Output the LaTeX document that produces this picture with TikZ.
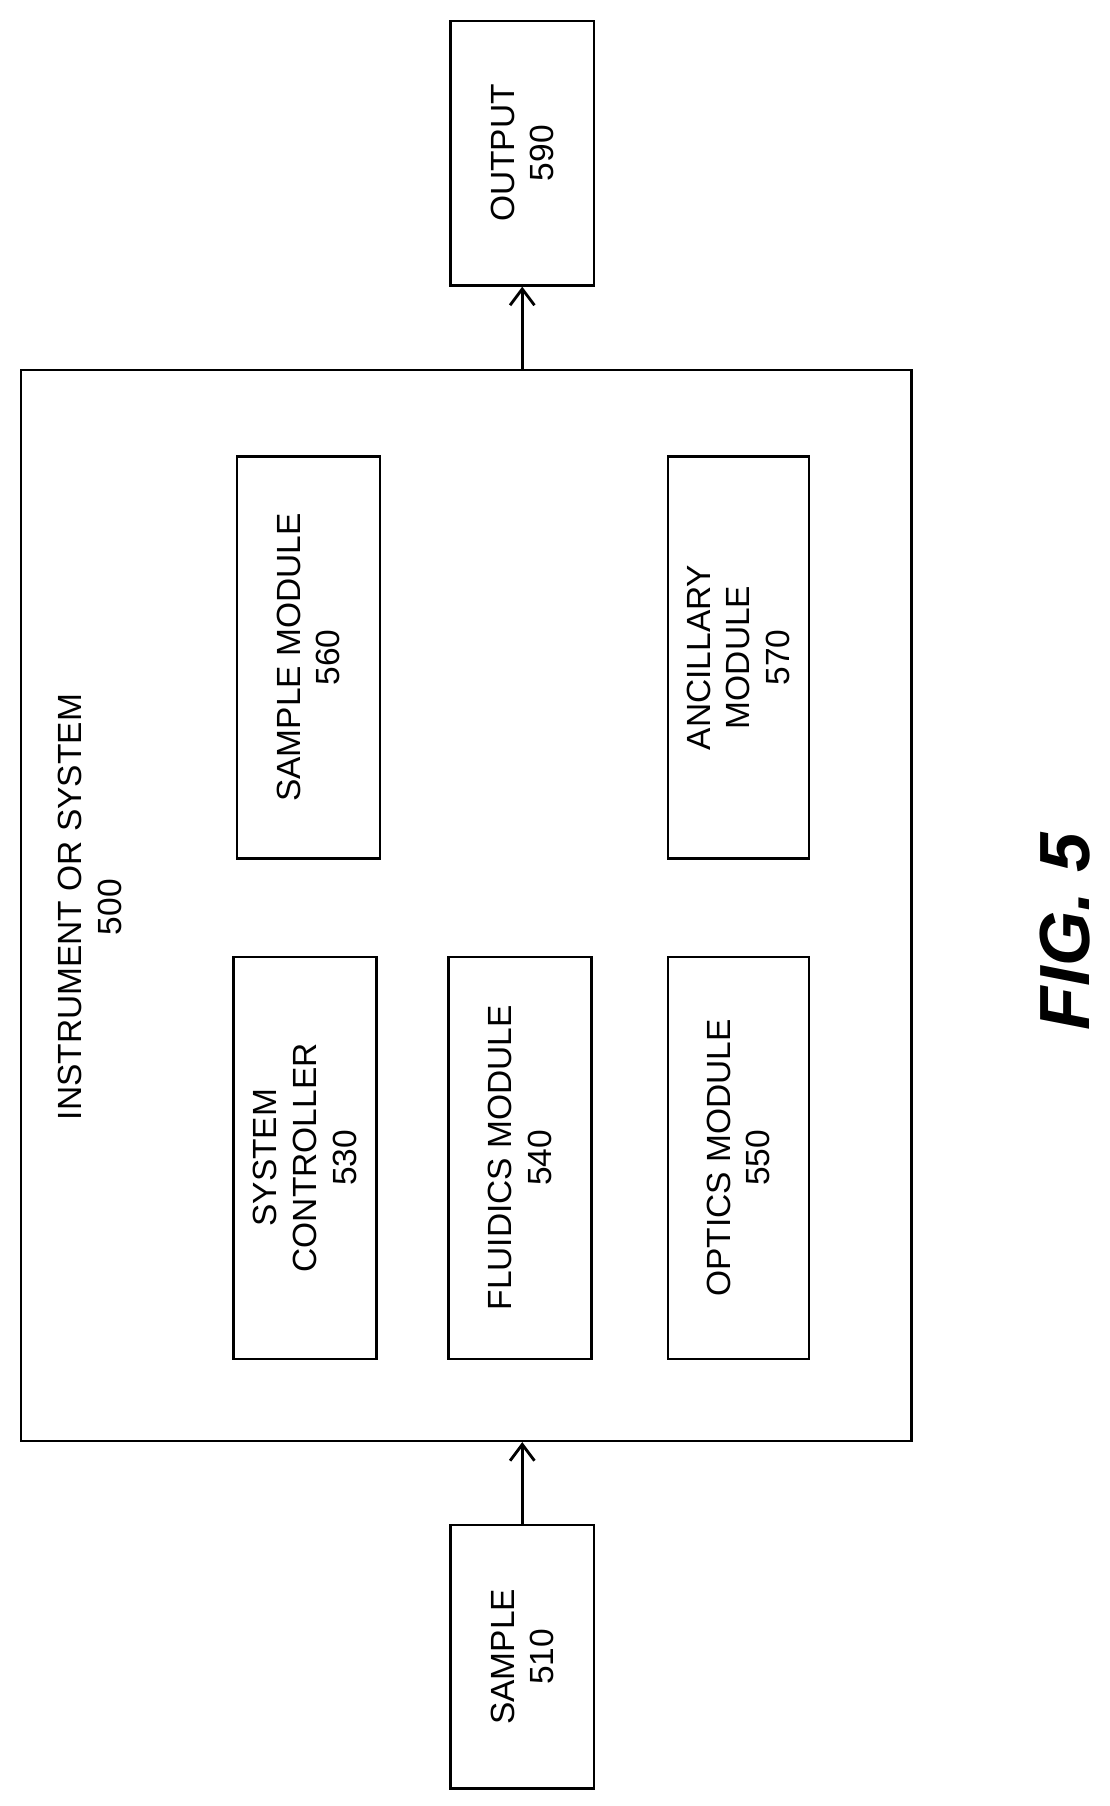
\documentclass[tikz,border=0pt]{standalone}
\usepackage{fontspec}
\setmainfont{Liberation Sans}
\usetikzlibrary{arrows.meta}
\begin{document}
\begin{tikzpicture}[x=0.02cm,y=-0.02cm,
  box/.style={draw,line width=1.2pt,inner sep=0pt},
  lbl/.style={rotate=90,align=center,font=\fontsize{16.5}{19.5}\selectfont},
  arr/.style={line width=1.4pt,-{Straight Barb[length=8pt,width=12pt]}}]
\useasboundingbox (0,0) rectangle (960,1563);
\node[box,minimum width=771*0.02cm,minimum height=927*0.02cm] (sys) at (403.5,783.5) {};
\node[lbl] (syslbl) at (78,785) {INSTRUMENT OR SYSTEM\\500};
\node[box,minimum width=124*0.02cm,minimum height=229*0.02cm] (out) at (452,132.5) {};
\node[lbl] (outt) at (452,132.5) {OUTPUT\\590};
\node[box,minimum width=124*0.02cm,minimum height=228*0.02cm] (smp) at (452,1434) {};
\node[lbl] (smpt) at (452,1434) {SAMPLE\\510};
\node[box,minimum width=124*0.02cm,minimum height=348*0.02cm] (sc) at (264,1002) {};
\node[lbl] (sct) at (264,1002) {SYSTEM\\CONTROLLER\\530};
\node[box,minimum width=124*0.02cm,minimum height=348*0.02cm] (fl) at (450,1002) {};
\node[lbl] (flt) at (450,1002) {FLUIDICS MODULE\\540};
\node[box,minimum width=122*0.02cm,minimum height=348*0.02cm] (op) at (639,1002) {};
\node[lbl] (opt) at (639,1002) {OPTICS MODULE\\550};
\node[box,minimum width=124*0.02cm,minimum height=348*0.02cm] (sm) at (267,569) {};
\node[lbl] (smt) at (267,569) {SAMPLE MODULE\\560};
\node[box,minimum width=122*0.02cm,minimum height=348*0.02cm] (an) at (639,569) {};
\node[lbl] (ant) at (639,569) {ANCILLARY\\MODULE\\570};
\node[rotate=90,font=\fontsize{35}{40}\selectfont\bfseries\itshape] (fig) at (922,806) {FIG. 5};
\draw[arr] (sys.north -| out.south) -- (out.south);
\draw[arr] (smp.north) -- (smp.north |- sys.south);
\end{tikzpicture}
\end{document}
